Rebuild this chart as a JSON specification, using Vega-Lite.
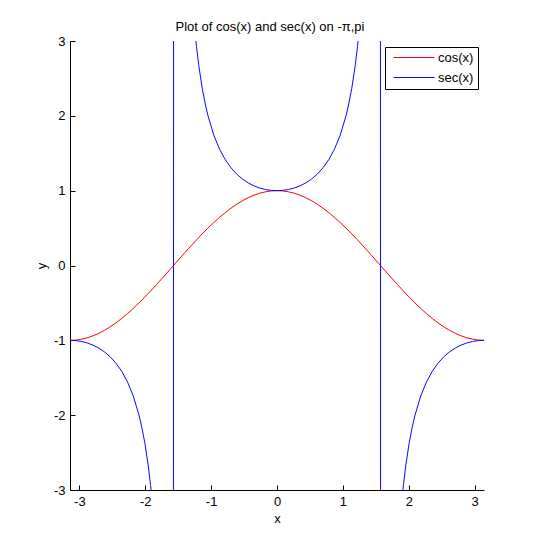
{
  "$schema": "https://vega.github.io/schema/vega-lite/v6.json",
  "autosize": {"type": "none"},
  "width": 414,
  "height": 449,
  "padding": {"left": 70, "top": 41, "right": 51, "bottom": 61},
  "background": "white",
  "title": {"text": "Plot of cos(x) and sec(x) on -π,pi", "font": "Liberation Sans", "fontSize": 13, "fontWeight": "normal", "color": "black", "baseline": "alphabetic", "frame": "group", "offset": 9, "dx": -7, "dy": 18},
  "config": {
    "view": {"stroke": null},
    "axis": {"labelFont": "Liberation Sans", "labelFontSize": 13, "labelColor": "black", "titleFont": "Liberation Sans", "titleFontSize": 13, "titleFontWeight": "normal", "titleColor": "black", "domainColor": "black", "tickColor": "black", "grid": false, "tickSize": -5, "labelPadding": 10, "labelExpr": "replace(datum.label, '−', '-')"}
  },
  "data": {"values": [
    {"f":"cos(x)","x":-3.1416,"y":-1},{"f":"cos(x)","x":-3.0543,"y":-0.99619},{"f":"cos(x)","x":-2.9671,"y":-0.98481},{"f":"cos(x)","x":-2.8798,"y":-0.96593},{"f":"cos(x)","x":-2.7925,"y":-0.93969},{"f":"cos(x)","x":-2.7053,"y":-0.90631},{"f":"cos(x)","x":-2.618,"y":-0.86603},{"f":"cos(x)","x":-2.5307,"y":-0.81915},{"f":"cos(x)","x":-2.4435,"y":-0.76604},{"f":"cos(x)","x":-2.3562,"y":-0.70711},{"f":"cos(x)","x":-2.2689,"y":-0.64279},{"f":"cos(x)","x":-2.1817,"y":-0.57358},{"f":"cos(x)","x":-2.0944,"y":-0.5},{"f":"cos(x)","x":-2.0071,"y":-0.42262},{"f":"cos(x)","x":-1.9199,"y":-0.34202},{"f":"cos(x)","x":-1.8326,"y":-0.25882},{"f":"cos(x)","x":-1.7453,"y":-0.17365},{"f":"cos(x)","x":-1.6581,"y":-0.08716},{"f":"cos(x)","x":-1.5708,"y":0},{"f":"cos(x)","x":-1.4835,"y":0.08716},{"f":"cos(x)","x":-1.3963,"y":0.17365},{"f":"cos(x)","x":-1.309,"y":0.25882},{"f":"cos(x)","x":-1.2217,"y":0.34202},{"f":"cos(x)","x":-1.1345,"y":0.42262},{"f":"cos(x)","x":-1.0472,"y":0.5},{"f":"cos(x)","x":-0.9599,"y":0.57358},{"f":"cos(x)","x":-0.8727,"y":0.64279},{"f":"cos(x)","x":-0.7854,"y":0.70711},{"f":"cos(x)","x":-0.6981,"y":0.76604},{"f":"cos(x)","x":-0.6109,"y":0.81915},{"f":"cos(x)","x":-0.5236,"y":0.86603},{"f":"cos(x)","x":-0.4363,"y":0.90631},{"f":"cos(x)","x":-0.3491,"y":0.93969},{"f":"cos(x)","x":-0.2618,"y":0.96593},{"f":"cos(x)","x":-0.1745,"y":0.98481},{"f":"cos(x)","x":-0.0873,"y":0.99619},{"f":"cos(x)","x":0,"y":1},
    {"f":"cos(x)","x":0.0873,"y":0.99619},{"f":"cos(x)","x":0.1745,"y":0.98481},{"f":"cos(x)","x":0.2618,"y":0.96593},{"f":"cos(x)","x":0.3491,"y":0.93969},{"f":"cos(x)","x":0.4363,"y":0.90631},{"f":"cos(x)","x":0.5236,"y":0.86603},{"f":"cos(x)","x":0.6109,"y":0.81915},{"f":"cos(x)","x":0.6981,"y":0.76604},{"f":"cos(x)","x":0.7854,"y":0.70711},{"f":"cos(x)","x":0.8727,"y":0.64279},{"f":"cos(x)","x":0.9599,"y":0.57358},{"f":"cos(x)","x":1.0472,"y":0.5},{"f":"cos(x)","x":1.1345,"y":0.42262},{"f":"cos(x)","x":1.2217,"y":0.34202},{"f":"cos(x)","x":1.309,"y":0.25882},{"f":"cos(x)","x":1.3963,"y":0.17365},{"f":"cos(x)","x":1.4835,"y":0.08716},{"f":"cos(x)","x":1.5708,"y":0},{"f":"cos(x)","x":1.6581,"y":-0.08716},{"f":"cos(x)","x":1.7453,"y":-0.17365},{"f":"cos(x)","x":1.8326,"y":-0.25882},{"f":"cos(x)","x":1.9199,"y":-0.34202},{"f":"cos(x)","x":2.0071,"y":-0.42262},{"f":"cos(x)","x":2.0944,"y":-0.5},{"f":"cos(x)","x":2.1817,"y":-0.57358},{"f":"cos(x)","x":2.2689,"y":-0.64279},{"f":"cos(x)","x":2.3562,"y":-0.70711},{"f":"cos(x)","x":2.4435,"y":-0.76604},{"f":"cos(x)","x":2.5307,"y":-0.81915},{"f":"cos(x)","x":2.618,"y":-0.86603},{"f":"cos(x)","x":2.7053,"y":-0.90631},{"f":"cos(x)","x":2.7925,"y":-0.93969},{"f":"cos(x)","x":2.8798,"y":-0.96593},{"f":"cos(x)","x":2.9671,"y":-0.98481},{"f":"cos(x)","x":3.0543,"y":-0.99619},{"f":"cos(x)","x":3.1416,"y":-1},
    {"f":"sec(x)","x":-3.1416,"y":-1},{"f":"sec(x)","x":-3.0543,"y":-1.00382},{"f":"sec(x)","x":-2.9671,"y":-1.01543},{"f":"sec(x)","x":-2.8798,"y":-1.03528},{"f":"sec(x)","x":-2.7925,"y":-1.06418},{"f":"sec(x)","x":-2.7053,"y":-1.10338},{"f":"sec(x)","x":-2.618,"y":-1.1547},{"f":"sec(x)","x":-2.5307,"y":-1.22077},{"f":"sec(x)","x":-2.4435,"y":-1.30541},{"f":"sec(x)","x":-2.3562,"y":-1.41421},{"f":"sec(x)","x":-2.2689,"y":-1.55572},{"f":"sec(x)","x":-2.1817,"y":-1.74345},{"f":"sec(x)","x":-2.0944,"y":-2},{"f":"sec(x)","x":-2.0595,"y":-2.1301},{"f":"sec(x)","x":-2.0071,"y":-2.3662},{"f":"sec(x)","x":-1.9548,"y":-2.6695},{"f":"sec(x)","x":-1.9199,"y":-2.9238},{"f":"sec(x)","x":-1.9024,"y":-3.0716},{"f":"sec(x)","x":-1.885,"y":-3.23607},{"f":"sec(x)","x":-1.8326,"y":-3.8637},{"f":"sec(x)","x":-1.7453,"y":-5.75877},{"f":"sec(x)","x":-1.6581,"y":-11.4737},{"f":"sec(x)","x":-1.5882,"y":-57.2987},
    {"f":"sec(x)","x":-1.5533,"y":57.2987},{"f":"sec(x)","x":-1.4835,"y":11.4737},{"f":"sec(x)","x":-1.3963,"y":5.75877},{"f":"sec(x)","x":-1.309,"y":3.8637},{"f":"sec(x)","x":-1.2566,"y":3.23607},{"f":"sec(x)","x":-1.2392,"y":3.0716},{"f":"sec(x)","x":-1.2217,"y":2.9238},{"f":"sec(x)","x":-1.1868,"y":2.6695},{"f":"sec(x)","x":-1.1345,"y":2.3662},{"f":"sec(x)","x":-1.0821,"y":2.1301},{"f":"sec(x)","x":-1.0472,"y":2},{"f":"sec(x)","x":-0.9599,"y":1.74345},{"f":"sec(x)","x":-0.8727,"y":1.55572},{"f":"sec(x)","x":-0.7854,"y":1.41421},{"f":"sec(x)","x":-0.6981,"y":1.30541},{"f":"sec(x)","x":-0.6109,"y":1.22077},{"f":"sec(x)","x":-0.5236,"y":1.1547},{"f":"sec(x)","x":-0.4363,"y":1.10338},{"f":"sec(x)","x":-0.3491,"y":1.06418},{"f":"sec(x)","x":-0.2618,"y":1.03528},{"f":"sec(x)","x":-0.1745,"y":1.01543},{"f":"sec(x)","x":-0.0873,"y":1.00382},{"f":"sec(x)","x":0,"y":1},
    {"f":"sec(x)","x":0.0873,"y":1.00382},{"f":"sec(x)","x":0.1745,"y":1.01543},{"f":"sec(x)","x":0.2618,"y":1.03528},{"f":"sec(x)","x":0.3491,"y":1.06418},{"f":"sec(x)","x":0.4363,"y":1.10338},{"f":"sec(x)","x":0.5236,"y":1.1547},{"f":"sec(x)","x":0.6109,"y":1.22077},{"f":"sec(x)","x":0.6981,"y":1.30541},{"f":"sec(x)","x":0.7854,"y":1.41421},{"f":"sec(x)","x":0.8727,"y":1.55572},{"f":"sec(x)","x":0.9599,"y":1.74345},{"f":"sec(x)","x":1.0472,"y":2},{"f":"sec(x)","x":1.0821,"y":2.1301},{"f":"sec(x)","x":1.1345,"y":2.3662},{"f":"sec(x)","x":1.1868,"y":2.6695},{"f":"sec(x)","x":1.2217,"y":2.9238},{"f":"sec(x)","x":1.2392,"y":3.0716},{"f":"sec(x)","x":1.2566,"y":3.23607},{"f":"sec(x)","x":1.309,"y":3.8637},{"f":"sec(x)","x":1.3963,"y":5.75877},{"f":"sec(x)","x":1.4835,"y":11.4737},{"f":"sec(x)","x":1.5533,"y":57.2987},
    {"f":"sec(x)","x":1.5882,"y":-57.2987},{"f":"sec(x)","x":1.6581,"y":-11.4737},{"f":"sec(x)","x":1.7453,"y":-5.75877},{"f":"sec(x)","x":1.8326,"y":-3.8637},{"f":"sec(x)","x":1.885,"y":-3.23607},{"f":"sec(x)","x":1.9024,"y":-3.0716},{"f":"sec(x)","x":1.9199,"y":-2.9238},{"f":"sec(x)","x":1.9548,"y":-2.6695},{"f":"sec(x)","x":2.0071,"y":-2.3662},{"f":"sec(x)","x":2.0595,"y":-2.1301},{"f":"sec(x)","x":2.0944,"y":-2},{"f":"sec(x)","x":2.1817,"y":-1.74345},{"f":"sec(x)","x":2.2689,"y":-1.55572},{"f":"sec(x)","x":2.3562,"y":-1.41421},{"f":"sec(x)","x":2.4435,"y":-1.30541},{"f":"sec(x)","x":2.5307,"y":-1.22077},{"f":"sec(x)","x":2.618,"y":-1.1547},{"f":"sec(x)","x":2.7053,"y":-1.10338},{"f":"sec(x)","x":2.7925,"y":-1.06418},{"f":"sec(x)","x":2.8798,"y":-1.03528},{"f":"sec(x)","x":2.9671,"y":-1.01543},{"f":"sec(x)","x":3.0543,"y":-1.00382},{"f":"sec(x)","x":3.1416,"y":-1}
  ]},
  "mark": {"type": "line", "clip": true, "strokeWidth": 1},
  "encoding": {
    "x": {"field": "x", "type": "quantitative", "scale": {"domain": [-3.1416, 3.1416], "nice": false, "zero": false}, "axis": {"values": [-3,-2,-1,0,1,2,3], "title": "x", "titlePadding": 4}},
    "y": {"field": "y", "type": "quantitative", "scale": {"domain": [-3, 3], "nice": false}, "axis": {"values": [-3,-2,-1,0,1,2,3], "title": "y", "titlePadding": 5}},
    "color": {"field": "f", "type": "nominal", "scale": {"domain": ["cos(x)", "sec(x)"], "range": ["#ff0000", "#0808ff"]},
      "legend": {"title": null, "orient": "top-right", "offset": 6, "strokeColor": "black", "fillColor": "white", "padding": 4, "rowPadding": 6, "symbolType": "M-0.333,0H6.5", "symbolSize": 144, "symbolStrokeWidth": 1, "labelFont": "Liberation Sans", "labelFontSize": 13, "labelColor": "black", "labelOffset": 36}}
  }
}
